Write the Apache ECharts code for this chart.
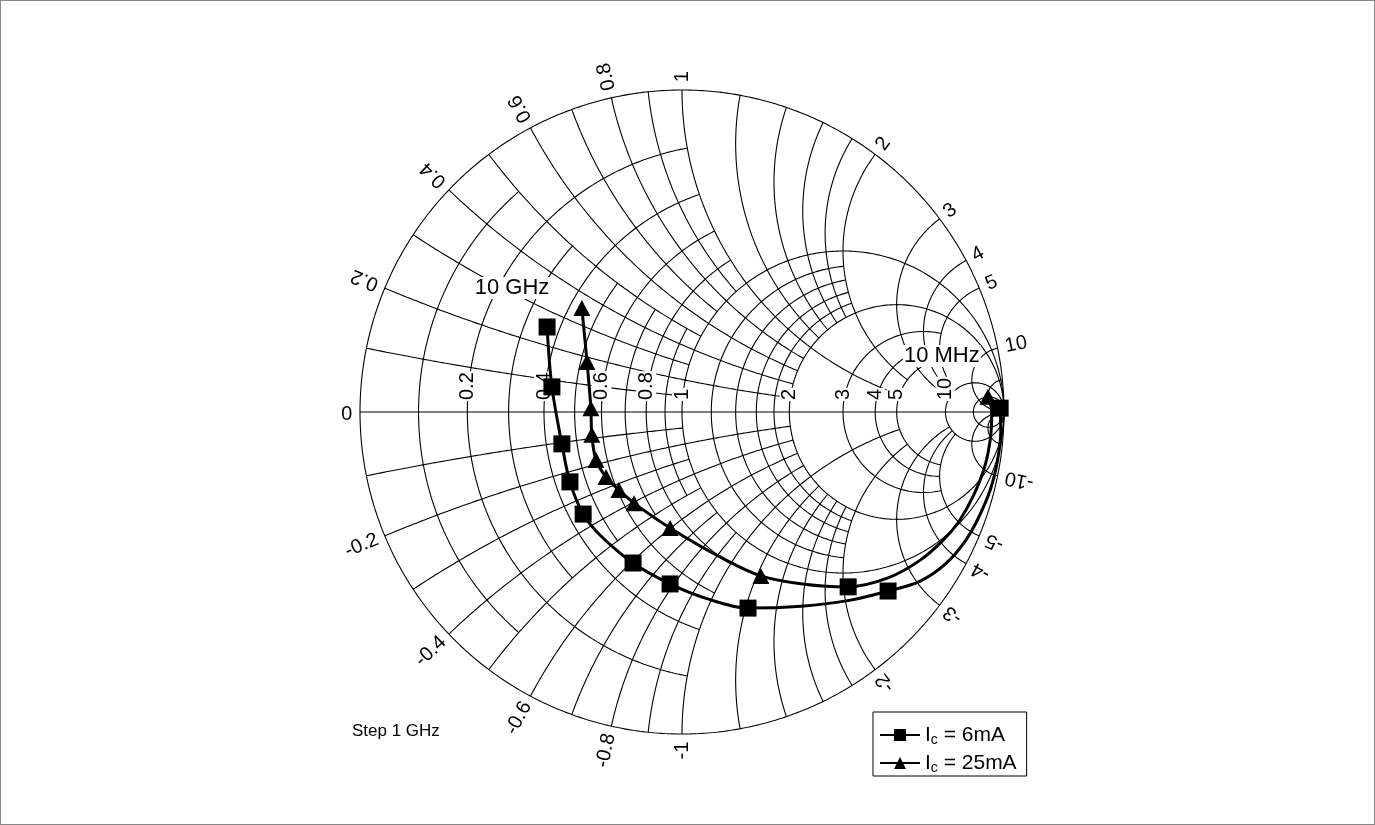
<!DOCTYPE html>
<html>
<head>
<meta charset="utf-8">
<script src="https://cdn.jsdelivr.net/npm/echarts@6/dist/echarts.min.js"></script>
<style>
html,body{margin:0;padding:0;background:#fff;}
#frame{position:absolute;left:0;top:0;width:1373px;height:823px;border:1px solid #888;}
#chart{position:absolute;left:0;top:0;width:1375px;height:825px;}
</style>
</head>
<body>
<div id="frame"></div>
<div id="chart"></div>
<script>
// Ic = 6 mA : markers 10 MHz, 1 GHz ... 10 GHz
const s6MarkRe = [0.988, 0.640, 0.516, 0.205, -0.037, -0.152, -0.307, -0.348, -0.373, -0.404, -0.419];
const s6MarkIm = [0.012, -0.556, -0.543, -0.609, -0.534, -0.469, -0.317, -0.217, -0.099, 0.078, 0.264];
// trace of Ic = 6 mA
const s6TraceRe = [0.988, 0.990, 0.980, 0.958, 0.920, 0.880, 0.820, 0.740, 0.640, 0.520, 0.370, 0.205, 0.072, -0.037, -0.152, -0.255, -0.307, -0.348, -0.373, -0.404, -0.419];
const s6TraceIm = [0.012, -0.060, -0.150, -0.240, -0.330, -0.400, -0.470, -0.525, -0.556, -0.585, -0.603, -0.609, -0.578, -0.534, -0.469, -0.382, -0.317, -0.217, -0.099, 0.078, 0.264];
// Ic = 25 mA : markers 10 MHz, 1 GHz ... 10 GHz
const s25MarkRe = [0.950, 0.245, -0.037, -0.149, -0.196, -0.236, -0.267, -0.280, -0.283, -0.295, -0.311];
const s25MarkIm = [0.047, -0.509, -0.360, -0.283, -0.242, -0.202, -0.149, -0.071, 0.012, 0.155, 0.323];
// trace of Ic = 25 mA
const s25TraceRe = [0.950, 0.962, 0.958, 0.940, 0.905, 0.860, 0.811, 0.740, 0.640, 0.516, 0.380, 0.245, 0.118, -0.037, -0.149, -0.196, -0.236, -0.267, -0.280, -0.283, -0.295, -0.311];
const s25TraceIm = [0.047, 0.000, -0.080, -0.170, -0.260, -0.340, -0.398, -0.460, -0.515, -0.543, -0.535, -0.509, -0.450, -0.360, -0.283, -0.242, -0.202, -0.149, -0.071, 0.012, 0.155, 0.323];

// grid values
const rCircles = [0.1,0.2,0.3,0.4,0.5,0.6,0.7,0.8,0.9,1,1.2,1.4,1.6,1.8,2,3,4,5,10,20];
const rLimits  = [0.5,1,0.5,1,0.5,1,0.5,1,0.5,Infinity,2,2,2,2,Infinity,5,5,5,Infinity,Infinity];
const xArcs    = [0.1,0.2,0.3,0.4,0.5,0.6,0.7,0.8,0.9,1,1.2,1.4,1.6,1.8,2,3,4,5,10,20];
const xLimits  = [1,2,1,2,1,2,1,2,1,5,2,2,2,2,5,10,10,10,Infinity,Infinity];
const axisLabelValues = [0.2,0.4,0.6,0.8,1,2,3,4,5,10];
const rimLabelValues = [0,0.2,0.4,0.6,0.8,1,2,3,4,5,10,-10,-5,-4,-3,-2,-1,-0.8,-0.6,-0.4,-0.2];
const noteTexts = ['10 MHz', '10 GHz'];
const notePosRe = [0.807, -0.528];
const notePosIm = [0.174, 0.385];

const FONT = '"Liberation Sans", Arial, sans-serif';

function gamma(r, x){ // (z-1)/(z+1)
  const a=r-1, b=x, c=r+1, d=x;
  const den=c*c+d*d;
  return [(a*c+b*d)/den, (b*c-a*d)/den];
}
const N=500;
function rCurve(r, xmax){
  const pts=[]; const A=Math.atan(xmax);
  for(let i=0;i<=N;i++){ const v=-A+2*A*i/N; pts.push(gamma(r, Math.tan(v))); }
  return pts;
}
function xCurve(x, rmax){
  const pts=[]; const A=Math.atan(rmax);
  for(let i=0;i<=N;i++){ const v=A*i/N; pts.push(gamma(Math.tan(v), x)); }
  return pts;
}
const gridSeries=[];
function addLine(pts){
  gridSeries.push({type:'line', data:pts, showSymbol:false, symbol:'none', silent:true, clip:false, z:1,
    lineStyle:{color:'#000', width:1.1}, animation:false});
}
// outer rim and real axis
const rim=[]; for(let i=0;i<=720;i++){const t=2*Math.PI*i/720; rim.push([Math.cos(t),Math.sin(t)]);}
addLine(rim);
addLine([[-1,0],[1,0]]);
rCircles.forEach((r,i)=>addLine(rCurve(r, rLimits[i])));
xArcs.forEach((x,i)=>{ addLine(xCurve(x, xLimits[i])); addLine(xCurve(-x, xLimits[i])); });

// label data
const rimLabels = rimLabelValues.map(x=>{
  const g = (x===0)?[-1,0]:gamma(0,x);
  return [g[0], g[1], x];
});
const axLabels = axisLabelValues.map(r=>[ (r-1)/(r+1), 0, r ]);

const labelSeries = {
  type:'custom', coordinateSystem:'cartesian2d', silent:true, z:5, animation:false, clip:false,
  data: rimLabels,
  renderItem:(params, api)=>{
    const gx=api.value(0), gy=api.value(1), v=api.value(2);
    const th=Math.atan2(gy,gx);
    const p = api.coord([gx*1.024, gy*1.024]);
    const dir = th>=0 ? th : th+Math.PI;   // text always points to upper half
    const outward = th>=0 || (v===0);
    return {type:'text', x:p[0], y:p[1], rotation: dir,
      style:{text: String(v), font:'20px '+FONT, fill:'#000',
        align: outward ? 'left':'right', verticalAlign:'middle'}};
  }
};
const axisLabelSeries = {
  type:'custom', coordinateSystem:'cartesian2d', silent:true, z:4, animation:false, clip:false,
  data: axLabels,
  renderItem:(params, api)=>{
    const p = api.coord([api.value(0), 0]);
    return {type:'text', x:p[0], y:p[1]-11, rotation: Math.PI/2,
      style:{text: String(api.value(2)), font:'20px '+FONT, fill:'#000', align:'left', verticalAlign:'middle',
        backgroundColor:'#fff', padding:[0,1,0,1]}};
  }
};
const noteSeries = {
  type:'custom', coordinateSystem:'cartesian2d', silent:true, z:6, animation:false, clip:false,
  data: noteTexts.map((t,i)=>[notePosRe[i], notePosIm[i], i]),
  renderItem:(params, api)=>{
    const p = api.coord([api.value(0), api.value(1)]);
    return {type:'text', x:p[0], y:p[1],
      style:{text: noteTexts[params.dataIndex], font:'22px '+FONT, fill:'#000', align:'center', verticalAlign:'middle',
        backgroundColor:'#fff', padding:[0,1,0,1]}};
  }
};

const zip=(a,b)=>a.map((v,i)=>[v,b[i]]);
const dataSeries = [
  {name:'I_c = 6mA', type:'line', data: zip(s6TraceRe,s6TraceIm), smooth:0.35, showSymbol:false, symbol:'rect', symbolSize:15,
    lineStyle:{color:'#000', width:3}, itemStyle:{color:'#000', opacity:1}, z:10, clip:false, animation:false},
  {name:'I_c = 25mA', type:'line', data: zip(s25TraceRe,s25TraceIm), smooth:0.35, showSymbol:false, symbol:'triangle', symbolSize:15,
    lineStyle:{color:'#000', width:3}, itemStyle:{color:'#000', opacity:1}, z:10, clip:false, animation:false},
  {name:'I_c = 6mA', type:'scatter', data: zip(s6MarkRe,s6MarkIm), symbol:'rect', symbolSize:17,
    itemStyle:{color:'#000', opacity:1}, z:11, clip:false, animation:false},
  {name:'I_c = 25mA', type:'scatter', data: zip(s25MarkRe,s25MarkIm), symbol:'triangle', symbolSize:[17,16],
    itemStyle:{color:'#000', opacity:1}, z:11, clip:false, animation:false}
];

const chart = echarts.init(document.getElementById('chart'), null, {renderer:'canvas'});
chart.setOption({
  animation:false,
  backgroundColor:'transparent',
  grid:{left:360, top:90, width:644, height:644},
  xAxis:{type:'value', min:-1, max:1, show:false},
  yAxis:{type:'value', min:-1, max:1, show:false},
  legend:{
    orient:'vertical', left:873, top:712, itemWidth:40, itemHeight:15, itemGap:4,
    borderColor:'#000', borderWidth:1, padding:[11,10,1,6], selectedMode:false,
    data:[{name:'I_c = 6mA'},{name:'I_c = 25mA'}],
    formatter: n => '{n|I}{s|c}{n|' + n.slice(3) + '}',
    textStyle:{fontFamily:FONT, fontSize:21, color:'#000',
      rich:{n:{fontFamily:FONT, fontSize:21, color:'#000', lineHeight:24}, s:{fontFamily:FONT, fontSize:14, color:'#000', lineHeight:14, padding:[10,0,0,0]}}}
  },
  graphic:[{type:'text', left:352, top:723, style:{text:'Step 1 GHz', font:'17px '+FONT, fill:'#000'}}],
  series: gridSeries.concat([axisLabelSeries, labelSeries, noteSeries]).concat(dataSeries)
});
</script>
</body>
</html>
